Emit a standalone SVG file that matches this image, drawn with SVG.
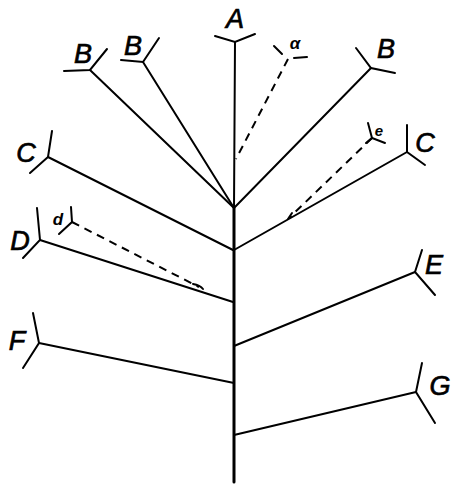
<svg xmlns="http://www.w3.org/2000/svg" width="451" height="486" viewBox="0 0 451 486">
<style>
.ln{stroke:#000;stroke-width:2;fill:none;stroke-linecap:round}
.dash{stroke:#000;stroke-width:2;fill:none;stroke-dasharray:8 6}
.lbl{font-family:"Liberation Sans",Arial,sans-serif;font-style:italic;font-size:27px;text-anchor:middle;fill:#000;stroke:#000;stroke-width:0.7}
.sm{font-family:"Liberation Sans",Arial,sans-serif;font-style:italic;font-weight:bold;font-size:17px;text-anchor:middle;fill:#000}
</style>
<rect width="451" height="486" fill="#fff"/>
<g id="connectors">
<line class="ln" x1="235" y1="42" x2="234" y2="208"/>
<line class="ln" style="stroke-width:3" x1="234" y1="208" x2="234" y2="482"/>
<line class="ln" x1="90" y1="70" x2="234" y2="208"/>
<line class="ln" x1="143" y1="62" x2="234" y2="208"/>
<line class="ln" x1="371" y1="68" x2="234" y2="208"/>
<line class="ln" x1="48" y1="157" x2="233" y2="250"/>
<line class="ln" x1="407" y1="152" x2="234" y2="250"/>
<line class="ln" x1="40" y1="240" x2="233" y2="302"/>
<line class="ln" x1="415" y1="272" x2="234" y2="346"/>
<line class="ln" x1="39" y1="343" x2="234" y2="383"/>
<line class="ln" x1="416" y1="392" x2="234" y2="435"/>
<line class="dash" x1="288" y1="59" x2="236" y2="159"/>
<line class="dash" x1="372" y1="138" x2="289" y2="218"/>
<line class="dash" x1="72" y1="222" x2="199" y2="287"/>
<path class="ln" d="M193 284 Q200 285 203 289"/>
<path class="ln" d="M292 213 L288 219"/>
</g>
<g id="A"><path class="ln" d="M215 36 L235 42 L255 34"/><text class="lbl" x="235" y="28">A</text></g>
<g id="B1"><path class="ln" d="M64 71 L90 70 L107 49"/><text class="lbl" x="83" y="63">B</text></g>
<g id="B2"><path class="ln" d="M121 60 L143 62 L159 38"/><text class="lbl" x="133" y="55">B</text></g>
<g id="B3"><path class="ln" d="M356 48 L371 68 L395 73"/><text class="lbl" x="386" y="58">B</text></g>
<g id="C1"><path class="ln" d="M52 131 L48 157 L30 173"/><text class="lbl" x="26" y="162">C</text></g>
<g id="C2"><path class="ln" d="M407 125 L407 152 L425 165"/><text class="lbl" x="425" y="152">C</text></g>
<g id="D"><path class="ln" d="M37 208 L40 240 L23 258"/><text class="lbl" x="20" y="250">D</text></g>
<g id="E"><path class="ln" d="M422 250 L415 272 L435 295"/><text class="lbl" x="434" y="274">E</text></g>
<g id="F"><path class="ln" d="M33 313 L39 343 L23 368"/><text class="lbl" x="17" y="350">F</text></g>
<g id="G"><path class="ln" d="M422 363 L416 392 L435 423"/><text class="lbl" x="440" y="395">G</text></g>
<g id="alpha"><path class="ln" d="M274 46 L282 54"/><path class="ln" d="M294 58 L307 57"/><text class="sm" x="295" y="49">α</text></g>
<g id="e"><path class="ln" d="M368 123 L372 138 L385 143"/><path class="ln" d="M372 138 L366 143"/><text class="sm" x="379" y="136" style="font-size:15px">e</text></g>
<g id="d"><path class="ln" d="M71 207 L72 222 L59 234"/><text class="sm" x="58" y="225">d</text></g>
</svg>
